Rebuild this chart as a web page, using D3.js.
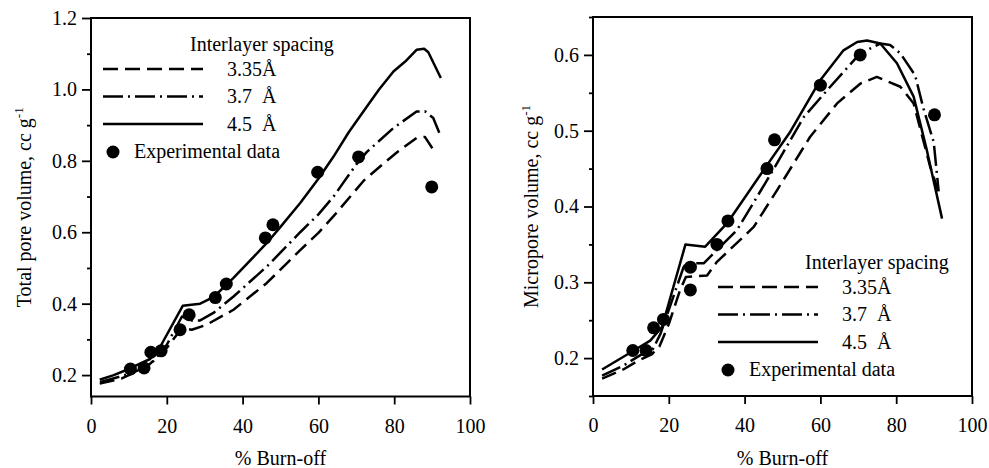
<!DOCTYPE html>
<html>
<head>
<meta charset="utf-8">
<script src="https://cdn.jsdelivr.net/npm/d3@7"></script>
<style>
	body { margin: 0; background: #fff; }
	svg { display: block; }
</style>
</head>
<body>
<svg id="chart" width="989" height="468"></svg>
<script>
// x = % burn-off, y = volume (cc/g)
var totalExp = [[10.4,0.217],[14.0,0.220],[15.8,0.264],[18.5,0.268],[23.5,0.327],[25.9,0.369],[32.8,0.417],[35.7,0.455],[46.0,0.584],[48.0,0.621],[59.8,0.768],[70.6,0.811],[89.9,0.727]];
var total335 = [[2.3,0.176],[8.0,0.190],[14.8,0.224],[20.0,0.276],[24.0,0.332],[26.6,0.327],[30.5,0.341],[37.6,0.383],[46.4,0.458],[55.2,0.550],[60.0,0.598],[64.0,0.645],[72.0,0.745],[78.0,0.800],[81.0,0.826],[85.9,0.864],[88.1,0.867],[90.8,0.823]];
var total37 = [[2.4,0.180],[10.6,0.205],[15.6,0.228],[20.0,0.285],[24.0,0.364],[26.5,0.353],[28.8,0.353],[32.3,0.374],[37.6,0.420],[46.4,0.504],[55.2,0.600],[60.0,0.650],[64.0,0.700],[70.0,0.790],[72.8,0.825],[79.8,0.892],[85.9,0.938],[88.1,0.939],[90.3,0.920],[92.1,0.873]];
var total45 = [[2.3,0.187],[6.0,0.200],[9.5,0.215],[15.6,0.245],[18.3,0.280],[24.2,0.394],[28.8,0.400],[32.3,0.418],[37.6,0.472],[46.4,0.570],[50.0,0.615],[55.2,0.682],[60.0,0.750],[64.0,0.812],[68.0,0.880],[72.8,0.952],[76.0,1.000],[79.8,1.050],[82.9,1.078],[85.9,1.111],[87.9,1.114],[89.0,1.104],[92.3,1.032]];

var microExp = [[10.5,0.210],[14.0,0.210],[16.0,0.240],[18.6,0.251],[25.7,0.320],[25.7,0.290],[32.7,0.350],[35.6,0.381],[45.9,0.450],[47.9,0.488],[60.0,0.560],[70.5,0.600],[90.1,0.521]];
var micro335 = [[2.4,0.173],[8.0,0.185],[12.0,0.197],[15.5,0.205],[17.5,0.215],[20.0,0.245],[23.0,0.290],[24.5,0.307],[30.1,0.309],[32.7,0.327],[39.7,0.360],[42.4,0.373],[48.5,0.421],[57.3,0.492],[64.4,0.536],[70.5,0.562],[74.9,0.571],[81.1,0.558],[84.6,0.536],[89.0,0.452],[91.2,0.419]];
var micro37 = [[2.4,0.177],[8.0,0.190],[12.5,0.204],[15.6,0.210],[17.8,0.232],[23.9,0.320],[24.6,0.325],[29.2,0.325],[31.8,0.338],[38.0,0.369],[46.8,0.442],[55.6,0.518],[62.6,0.558],[70.5,0.602],[75.8,0.615],[78.4,0.613],[81.1,0.602],[85.0,0.573],[87.2,0.529],[89.9,0.485],[91.2,0.420]];
var micro45 = [[2.4,0.185],[9.8,0.207],[15.1,0.223],[18.2,0.241],[24.4,0.350],[29.6,0.347],[35.4,0.378],[45.0,0.448],[52.1,0.499],[60.0,0.567],[66.1,0.606],[69.7,0.617],[72.3,0.619],[75.8,0.615],[80.2,0.589],[84.6,0.545],[88.1,0.474],[92.1,0.384]];

var xTicks = [0, 20, 40, 60, 80, 100];
var totalTicks = [0.2, 0.4, 0.6, 0.8, 1.0, 1.2];
var totalMinor = [0.3, 0.5, 0.7, 0.9, 1.1];
var microTicks = [0.2, 0.3, 0.4, 0.5, 0.6];
var microMinor = [0.15, 0.25, 0.35, 0.45, 0.55, 0.65];
var spacingLabels = ['3.35\u00c5', '3.7  \u00c5', '4.5  \u00c5'];
var dashes = ['15,7', '20,5,2,5', null];

(function() {
	'use strict';

	var FONT = '"Liberation Serif"';
	var svg = d3.select('#chart').style('font-family', FONT);

	function txt(sel, size) {
		return sel.style('font-family', FONT).style('font-size', size + 'px').attr('fill', '#000');
	}

	function drawPanel(cfg) {
		var w = cfg.width, h = cfg.height;
		var g = svg.append('g').attr('transform', 'translate(' + cfg.left + ',' + cfg.top + ')');
		var x = d3.scaleLinear().domain([0, 100]).range([0, w]);
		var y = d3.scaleLinear().domain(cfg.yDomain).range([h, 0]);

		// minor ticks first, majors on top
		g.append('g').call(d3.axisLeft(y).tickValues(cfg.yMinor).tickSize(4).tickFormat(''));
		g.append('g').call(d3.axisLeft(y).tickValues(cfg.yTicks).tickSize(9).tickPadding(5)
			.tickFormat(d3.format('.1f')));
		g.append('g').attr('transform', 'translate(0,' + h + ')')
			.call(d3.axisBottom(x).tickValues(xTicks).tickSize(8).tickPadding(14).tickFormat(d3.format('d')));
		g.selectAll('g').attr('font-family', null).attr('font-size', null);
		g.selectAll('.domain').remove();
		g.selectAll('.tick line').attr('stroke', '#000').attr('stroke-width', 1.8);
		txt(g.selectAll('.tick text'), 20);

		g.append('rect').attr('width', w).attr('height', h)
			.attr('fill', 'none').attr('stroke', '#000').attr('stroke-width', 2);

		var line = d3.line().x(function(d) {return x(d[0]);}).y(function(d) {return y(d[1]);});
		cfg.series.forEach(function(s, i) {
			g.append('path').datum(s)
				.attr('d', line)
				.attr('fill', 'none')
				.attr('stroke', '#000')
				.attr('stroke-width', 2.5)
				.attr('stroke-linejoin', 'round')
				.attr('stroke-dasharray', dashes[i]);
		});

		g.selectAll('circle.exp').data(cfg.points).enter().append('circle')
			.attr('class', 'exp')
			.attr('cx', function(d) {return x(d[0]);})
			.attr('cy', function(d) {return y(d[1]);})
			.attr('r', 6.5)
			.attr('fill', '#000');

		// legend
		var L = cfg.legend;
		var lg = g.append('g').attr('transform', 'translate(' + L.x + ',' + L.y + ')');
		txt(lg.append('text').attr('x', 87).attr('y', 0), 20).text('Interlayer spacing');
		spacingLabels.forEach(function(lbl, i) {
			var ly = 18 + i * 27.5;
			lg.append('line').attr('x1', 0).attr('x2', 100).attr('y1', ly).attr('y2', ly)
				.attr('stroke', '#000').attr('stroke-width', 2.6)
				.attr('stroke-dasharray', dashes[i]);
			txt(lg.append('text').attr('x', 124).attr('y', ly + 6.5), 20)
				.style('white-space', 'pre').text(lbl);
		});
		lg.append('circle').attr('cx', 10).attr('cy', 101).attr('r', 6.5).attr('fill', '#000');
		txt(lg.append('text').attr('x', 31).attr('y', 107), 20).text('Experimental data');

		// axis titles
		txt(svg.append('text'), 20)
			.attr('x', cfg.left + w / 2).attr('y', 465)
			.attr('text-anchor', 'middle')
			.text('% Burn-off');
		var yt = txt(svg.append('text'), 20)
			.attr('transform', 'translate(' + cfg.yTitleX + ',' + (cfg.top + h / 2) + ') rotate(-90)')
			.attr('text-anchor', 'middle');
		yt.append('tspan').text(cfg.yTitle + ', cc g');
		yt.append('tspan').attr('dy', -8).style('font-size', '13px').text('-1');
	}

	drawPanel({
		left: 91, top: 18, width: 379, height: 378.5,
		yDomain: [0.14, 1.2], yTicks: totalTicks, yMinor: totalMinor,
		series: [total335, total37, total45], points: totalExp,
		legend: {x: 12, y: 33},
		yTitle: 'Total pore volume', yTitleX: 31
	});

	drawPanel({
		left: 593, top: 17, width: 379, height: 379,
		yDomain: [0.15, 0.65], yTicks: microTicks, yMinor: microMinor,
		series: [micro335, micro37, micro45], points: microExp,
		legend: {x: 125, y: 252},
		yTitle: 'Micropore volume', yTitleX: 538
	});
})();
</script>
</body>
</html>
